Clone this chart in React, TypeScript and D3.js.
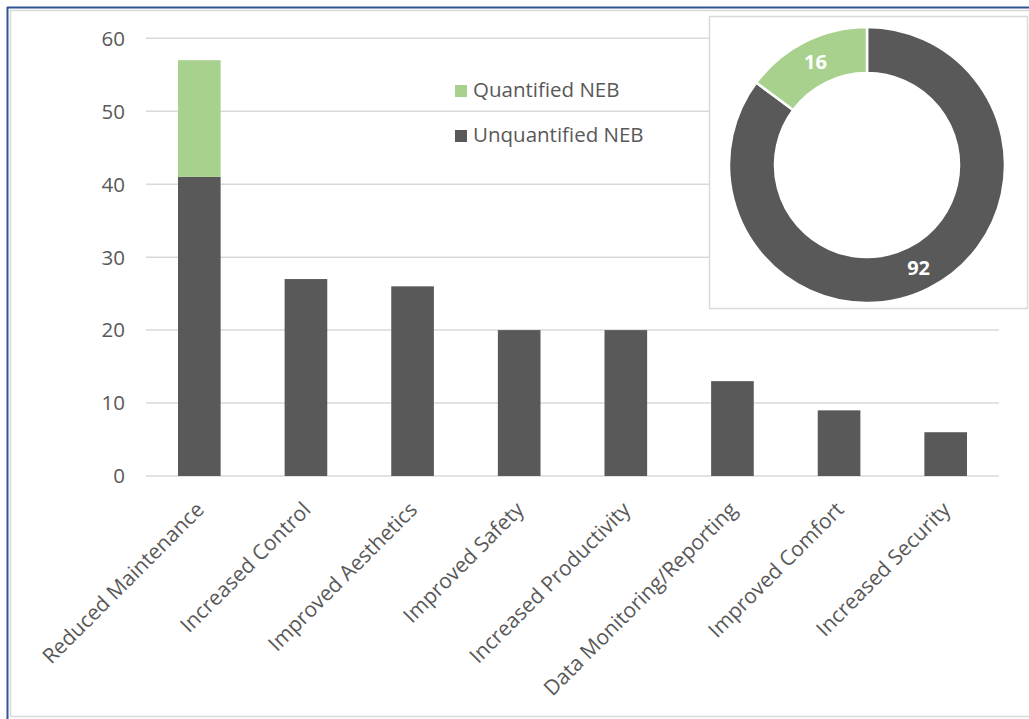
import React from "react";
import * as d3 from "d3";

const categories = [
  "Reduced Maintenance",
  "Increased Control",
  "Improved Aesthetics",
  "Improved Safety",
  "Increased Productivity",
  "Data Monitoring/Reporting",
  "Improved Comfort",
  "Increased Security",
];
const unquantified = [41, 27, 26, 20, 20, 13, 9, 6];
const quantified = [16, 0, 0, 0, 0, 0, 0, 0];
const yTicks = [0, 10, 20, 30, 40, 50, 60];
const donutLabels = ["Unquantified NEB", "Quantified NEB"];
const donutValues = [92, 16];

const W = 1029;
const H = 719;
const DARK = "#595959";
const GREEN = "#a9d18e";
const GRID = "#d9d9d9";
const TEXT = "#595959";
const FONT = "'Open Sans', 'Noto Sans', sans-serif";

export default function App() {
  const x = d3.scaleBand<string>().domain(categories).range([146, 999]).paddingInner(0.6).paddingOuter(0.3);
  const y = d3.scaleLinear().domain([0, 60]).range([476, 38.3]);

  const stackData = categories.map((c, i) => ({ cat: c, Unquantified: unquantified[i], Quantified: quantified[i] }));
  const stack = d3.stack<any>().keys(["Unquantified", "Quantified"])(stackData);
  const colors: Record<string, string> = { Unquantified: DARK, Quantified: GREEN };

  const pie = d3.pie<number>().sort(null).value((d) => d)(donutValues);
  const arc = d3.arc<d3.PieArcDatum<number>>().innerRadius(92).outerRadius(138);
  const labelArc = d3.arc<d3.PieArcDatum<number>>().innerRadius(115).outerRadius(115);
  const cx = 867, cy = 165;

  return (
    <svg width={W} height={H} style={{ position: "absolute", left: 0, top: 0, background: "#fff" }} fontFamily={FONT}>
      {/* outer frames */}
      <rect x={10.5} y={10.5} width={1030} height={706} fill="#fff" stroke="#d9d9d9" strokeWidth={1.5} />
      <line x1={7.5} y1={7} x2={7.5} y2={H} stroke="#2f5597" strokeWidth={2} />
      <line x1={7} y1={7.5} x2={W} y2={7.5} stroke="#2f5597" strokeWidth={2} />

      {/* gridlines */}
      {yTicks.map((t) => (
        <g key={t}>
          <line x1={146} x2={999} y1={y(t)} y2={y(t)} stroke={GRID} strokeWidth={1.5} />
          <text x={125} y={y(t)} dy="0.36em" textAnchor="end" fontSize={20.5} fill={TEXT}>
            {t}
          </text>
        </g>
      ))}

      {/* bars */}
      {stack.map((layer) => (
        <g key={layer.key} fill={colors[layer.key]}>
          {layer.map((d, i) =>
            d[1] - d[0] > 0 ? (
              <rect
                key={i}
                x={x(categories[i])!}
                width={x.bandwidth()}
                y={y(d[1])}
                height={y(d[0]) - y(d[1])}
              />
            ) : null
          )}
        </g>
      ))}

      {/* x labels */}
      {categories.map((c) => (
        <text
          key={c}
          transform={`translate(${x(c)! + x.bandwidth() / 2 + 6},${511}) rotate(-45)`}
          textAnchor="end"
          fontSize={21}
          fill={TEXT}
        >
          {c}
        </text>
      ))}

      {/* legend */}
      <rect x={455} y={85} width={12} height={12} fill={GREEN} />
      <text x={473} y={97} fontSize={20.5} fill={TEXT}>Quantified NEB</text>
      <rect x={455} y={130} width={12} height={12} fill={DARK} />
      <text x={473} y={142} fontSize={20.5} fill={TEXT}>Unquantified NEB</text>

      {/* inset donut */}
      <rect x={709.5} y={16.5} width={318} height={292} fill="#fff" stroke="#d9d9d9" strokeWidth={1.5} />
      <g transform={`translate(${cx},${cy})`}>
        {pie.map((p, i) => (
          <path key={i} d={arc(p)!} fill={i === 0 ? DARK : GREEN} stroke="#fff" strokeWidth={2.5} />
        ))}
        {pie.map((p, i) => {
          const [lx, ly] = labelArc.centroid(p);
          return (
            <text key={"l" + i} x={lx} y={ly} dy="0.36em" textAnchor="middle" fontSize={20} fontWeight="bold" fill="#fff">
              {donutValues[i]}
            </text>
          );
        })}
      </g>
    </svg>
  );
}
